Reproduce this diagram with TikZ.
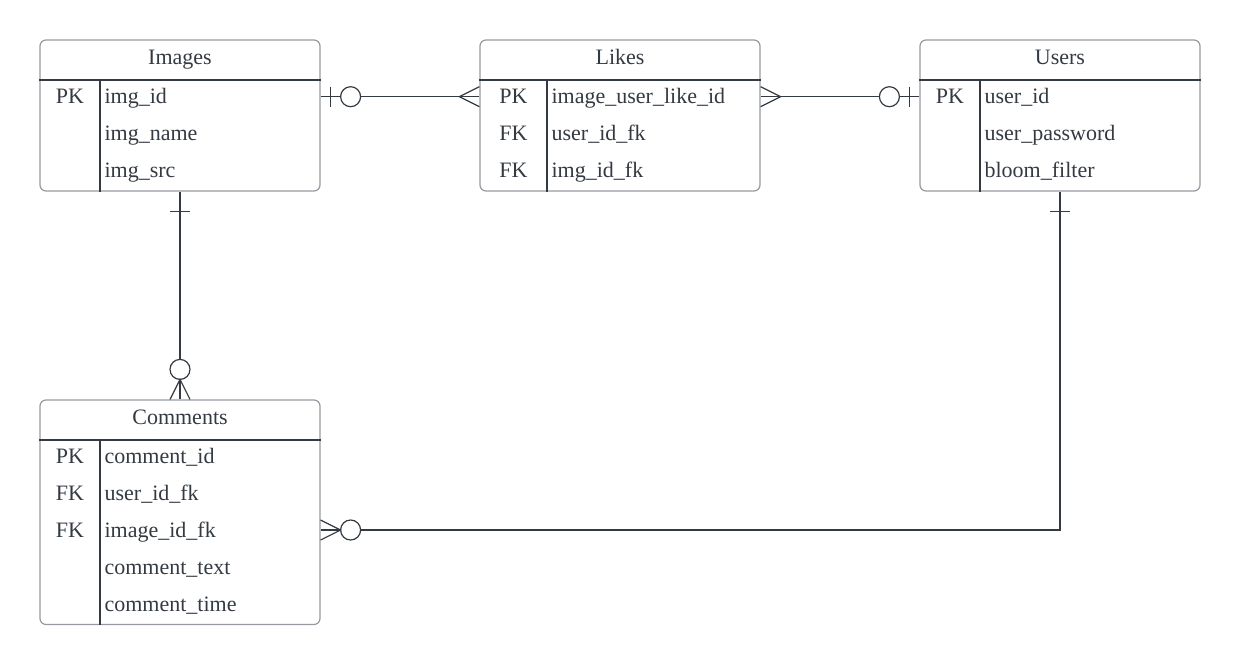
\documentclass[tikz,border=0pt]{standalone}
\usepackage{fontspec}
\setmainfont{Liberation Serif}
\usetikzlibrary{calc, positioning}
\definecolor{ink}{RGB}{52, 58, 66}
\definecolor{frame}{RGB}{150, 154, 160}
\tikzset{
    tablenode/.style = {draw=frame, rectangle, rounded corners=6pt, line width=1.2pt, inner sep=0pt, 
      minimum width=280pt, node distance=0em},
    textnode/.style  = {draw=none, fill=none, rectangle, inner sep=0pt, text=ink, 
      font=\fontsize{22}{26}\selectfont},
    keynode/.style = {textnode, anchor=base},
    fieldnode/.style = {textnode, anchor=base west},
    circlenode/.style = {circle, draw=ink, fill=white, line width=1.2pt, inner sep=0pt, minimum size=20pt},
    rowline/.style = {ink, line width=1.2pt},
    connect/.style = {ink, line width=1.2pt}
}

\begin{document}
\begin{tikzpicture}
\useasboundingbox (0,0) rectangle (1240pt,-665pt);

\node [tablenode, minimum height=151pt, name=images] at (180pt,-115.5pt) {};
\node [tablenode, minimum height=151pt, name=likes, right of = images, xshift=440pt] {};
\node [tablenode, minimum height=151pt, name=users, right of = likes, xshift=440pt] {};
\node [tablenode, minimum height=224.5pt, name=comments, below of = images, yshift=-396.75pt] {};

% Images
\draw [rowline] ([yshift=-40.5pt]images.north west) -- ([yshift=-40.5pt]images.north east);
\draw [rowline] ([xshift=60.5pt,yshift=-40.5pt]images.north west) -- ([xshift=60.5pt]images.south west);
\node [below=25.5pt of images.north, textnode, anchor=base, name=imgT] {Images};
\node [below right=64.5pt and 30.5pt of images.north west, keynode, name=imgK1] {PK};
\node [below right=64.5pt and 65pt of images.north west, fieldnode, name=imgF1] {img\_id};
\node [below=36.9pt of imgF1.base west, fieldnode, name=imgF2] {img\_name};
\node [below=36.9pt of imgF2.base west, fieldnode, name=imgF3] {img\_src};

% Likes
\draw [rowline] ([yshift=-40.5pt]likes.north west) -- ([yshift=-40.5pt]likes.north east);
\draw [rowline] ([xshift=67.5pt,yshift=-40.5pt]likes.north west) -- ([xshift=67.5pt]likes.south west);
\node [below=25.5pt of likes.north, textnode, anchor=base, name=likT] {Likes};
\node [below right=64.5pt and 34pt of likes.north west, keynode, name=likK1] {PK};
\node [below=36.9pt of likK1.base, keynode, name=likK2] {FK};
\node [below=36.9pt of likK2.base, keynode, name=likK3] {FK};
\node [below right=64.5pt and 72pt of likes.north west, fieldnode, name=likF1] {image\_user\_like\_id};
\node [below=36.9pt of likF1.base west, fieldnode, name=likF2] {user\_id\_fk};
\node [below=36.9pt of likF2.base west, fieldnode, name=likF3] {img\_id\_fk};

% Users
\draw [rowline] ([yshift=-40.5pt]users.north west) -- ([yshift=-40.5pt]users.north east);
\draw [rowline] ([xshift=60.5pt,yshift=-40.5pt]users.north west) -- ([xshift=60.5pt]users.south west);
\node [below=25.5pt of users.north, textnode, anchor=base, name=usrT] {Users};
\node [below right=64.5pt and 30.5pt of users.north west, keynode, name=usrK1] {PK};
\node [below right=64.5pt and 65pt of users.north west, fieldnode, name=usrF1] {user\_id};
\node [below=36.9pt of usrF1.base west, fieldnode, name=usrF2] {user\_password};
\node [below=36.9pt of usrF2.base west, fieldnode, name=usrF3] {bloom\_filter};

% Comments
\draw [rowline] ([yshift=-40.5pt]comments.north west) -- ([yshift=-40.5pt]comments.north east);
\draw [rowline] ([xshift=60.5pt,yshift=-40.5pt]comments.north west) -- ([xshift=60.5pt]comments.south west);
\node [below=25.5pt of comments.north, textnode, anchor=base, name=comT] {Comments};
\node [below right=64pt and 30.5pt of comments.north west, keynode, name=comK1] {PK};
\node [below=36.9pt of comK1.base, keynode, name=comK2] {FK};
\node [below=36.9pt of comK2.base, keynode, name=comK3] {FK};
\node [below right=64pt and 65pt of comments.north west, fieldnode, name=comF1] {comment\_id};
\node [below=36.9pt of comF1.base west, fieldnode, name=comF2] {user\_id\_fk};
\node [below=36.9pt of comF2.base west, fieldnode, name=comF3] {image\_id\_fk};
\node [below=36.9pt of comF3.base west, fieldnode, name=comF4] {comment\_text};
\node [below=36.9pt of comF4.base west, fieldnode, name=comF5] {comment\_time};

% connectors
\coordinate (ilS) at (images.east |- imgK1.center);
\coordinate (ilE) at (likes.west |- imgK1.center);
\coordinate (luS) at (likes.east |- imgK1.center);
\coordinate (luE) at (users.west |- imgK1.center);
\coordinate (ucE) at (comments.east |- comK3.center);

\draw (ilS) edge[connect] (ilE);
\draw (luS) edge[connect] (luE);
\draw (images.south) edge[connect] (comments.north);
\draw [connect] (users.south) |- (ucE);

% images -- likes
\draw [connect] ([xshift=10pt]ilS) ++(0,10pt) -- ++(0,-20pt);
\node [circlenode, name=ilC] at ([xshift=30pt]ilS) {};
\draw [connect] ([yshift=10pt]ilE) -- ([xshift=-20pt]ilE) -- ([yshift=-10pt]ilE);

% likes -- users
\draw [connect] ([yshift=10pt]luS) -- ([xshift=20pt]luS) -- ([yshift=-10pt]luS);
\node [circlenode, name=luC] at ([xshift=-30pt]luE) {};
\draw [connect] ([xshift=-10pt]luE) ++(0,10pt) -- ++(0,-20pt);

% images -- comments
\draw [connect] ([yshift=-20pt]images.south) ++(-10pt,0) -- ++(20pt,0);
\node [circlenode, name=icC] at ([yshift=30pt]comments.north) {};
\draw [connect] ([xshift=-10pt]comments.north) -- ([yshift=20pt]comments.north) -- ([xshift=10pt]comments.north);

% users -- comments
\draw [connect] ([yshift=-20pt]users.south) ++(-10pt,0) -- ++(20pt,0);
\node [circlenode, name=ucC] at ([xshift=30pt]ucE) {};
\draw [connect] ([yshift=10pt]ucE) -- ([xshift=20pt]ucE) -- ([yshift=-10pt]ucE);
\end{tikzpicture}
\end{document}
